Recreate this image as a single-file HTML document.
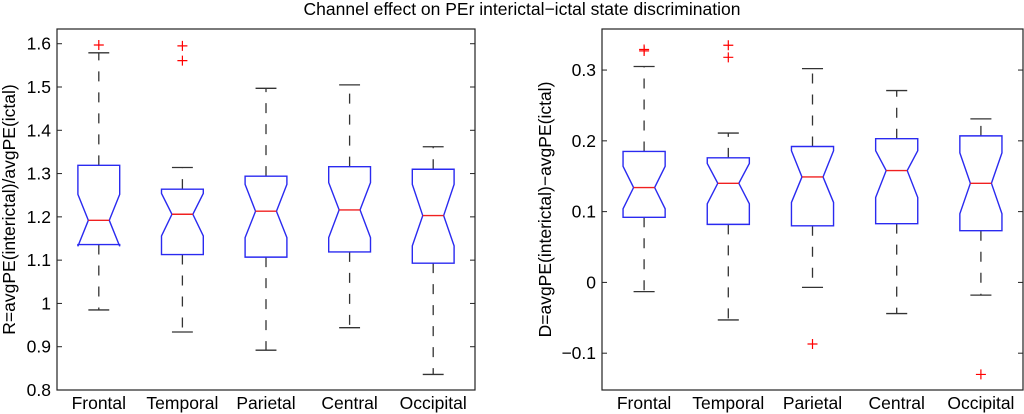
<!DOCTYPE html>
<html><head><meta charset="utf-8"><style>
html,body{margin:0;padding:0;background:#fff;}
svg{display:block;font-family:"Liberation Sans",sans-serif;}
</style></head><body>
<svg id="chart" width="1024" height="414" xmlns="http://www.w3.org/2000/svg">
<text x="522" y="15" text-anchor="middle" font-size="17.5" fill="#000">Channel effect on PEr interictal−ictal state discrimination</text>
</svg>
<script>
const categories = ["Frontal","Temporal","Parietal","Central","Occipital"];
// Left panel (R)
const rWhiskHi = [1.579,1.314,1.497,1.505,1.362];
const rQ3 = [1.319,1.264,1.294,1.316,1.310];
const rNotchHi = [1.252,1.254,1.275,1.279,1.275];
const rMedian = [1.192,1.206,1.213,1.216,1.203];
const rNotchLo = [1.132,1.156,1.152,1.152,1.133];
const rQ1 = [1.136,1.113,1.107,1.119,1.093];
const rWhiskLo = [0.985,0.934,0.892,0.944,0.836];
const rOutliers = [[1.597],[1.595,1.561],[],[],[]];
const rTicks = [0.8,0.9,1,1.1,1.2,1.3,1.4,1.5,1.6];
const rTickLabels = ["0.8","0.9","1","1.1","1.2","1.3","1.4","1.5","1.6"];
// Right panel (D)
const dWhiskHi = [0.305,0.211,0.302,0.271,0.231];
const dQ3 = [0.185,0.176,0.192,0.203,0.207];
const dNotchHi = [0.164,0.168,0.186,0.186,0.183];
const dMedian = [0.134,0.140,0.149,0.158,0.140];
const dNotchLo = [0.104,0.111,0.113,0.120,0.097];
const dQ1 = [0.092,0.082,0.080,0.083,0.073];
const dWhiskLo = [-0.013,-0.053,-0.007,-0.044,-0.018];
const dOutliers = [[0.329,0.327],[0.335,0.318],[-0.087],[],[-0.130]];
const dTicks = [-0.1,0,0.1,0.2,0.3];
const dTickLabels = ["−0.1","0","0.1","0.2","0.3"];

const svg = document.getElementById('chart');
const NS = 'http://www.w3.org/2000/svg';
function mk(tag, attrs, parent){
  const e = document.createElementNS(NS, tag);
  for (const k in attrs) e.setAttribute(k, attrs[k]);
  (parent||svg).appendChild(e);
  return e;
}

function panel(cfg){
  const g = mk('g', {});
  
  
  const {x0,x1,y0,y1,ymin,ymax} = cfg;
  const n = categories.length;
  const xs = i => x0 + (i + 0.5) * (x1 - x0) / n;
  const ys = v => y1 - (v - ymin) / (ymax - ymin) * (y1 - y0);
  const step = (x1 - x0) / n;
  const bw = step * 0.25, nw = step * 0.125, cw = step * 0.125;
  const frame = mk('rect', {x:x0, y:y0, width:x1-x0, height:y1-y0, fill:'none', stroke:'#222', 'stroke-width':1.2}, g);
  
  
  cfg.ticks.forEach((t, k) => {
    const y = ys(t);
    mk('line', {x1:x0, x2:x0+5, y1:y, y2:y, stroke:'#222'}, g);
    mk('line', {x1:x1, x2:x1-5, y1:y, y2:y, stroke:'#222'}, g);
    const tl = mk('text', {x:x0-6, y:y+6, 'text-anchor':'end', 'font-size':17.5, fill:'#000'}, g);
    tl.textContent = cfg.tickLabels[k];
    
    
  });
  const yl = mk('text', {transform:`translate(${cfg.ylx},${(y0+y1)/2}) rotate(-90)`, 'text-anchor':'middle', 'font-size':17.5, fill:'#000'}, g);
  yl.textContent = cfg.ylabel;
  
  
  categories.forEach((c, i) => {
    const x = xs(i);
    const bg = mk('g', {}, g);
    
    
    mk('line', {x1:x, x2:x, y1:ys(cfg.q3[i]), y2:ys(cfg.wHi[i]), stroke:'#333', 'stroke-width':1.3, 'stroke-dasharray':'10,11'}, bg);
    mk('line', {x1:x, x2:x, y1:ys(cfg.q1[i]), y2:ys(cfg.wLo[i]), stroke:'#333', 'stroke-width':1.3, 'stroke-dasharray':'10,11'}, bg);
    mk('line', {x1:x-cw, x2:x+cw, y1:ys(cfg.wHi[i]), y2:ys(cfg.wHi[i]), stroke:'#333', 'stroke-width':1.3}, bg);
    mk('line', {x1:x-cw, x2:x+cw, y1:ys(cfg.wLo[i]), y2:ys(cfg.wLo[i]), stroke:'#333', 'stroke-width':1.3}, bg);
    const ym = ys(cfg.med[i]);
    const pts = [[x-bw,ys(cfg.q3[i])],[x+bw,ys(cfg.q3[i])],[x+bw,ys(cfg.nHi[i])],[x+nw,ym],[x+bw,ys(cfg.nLo[i])],[x+bw,ys(cfg.q1[i])],
      [x-bw,ys(cfg.q1[i])],[x-bw,ys(cfg.nLo[i])],[x-nw,ym],[x-bw,ys(cfg.nHi[i])]];
    mk('polygon', {points:pts.map(p=>p.join(',')).join(' '), fill:'#fff', stroke:'#2a2af0', 'stroke-width':1.4}, bg);
    mk('line', {x1:x-nw, x2:x+nw, y1:ym, y2:ym, stroke:'#f02020', 'stroke-width':1.4}, bg);
    cfg.out[i].forEach(v => {
      const y = ys(v);
      const o = mk('path', {d:`M${x-5},${y}H${x+5}M${x},${y-5}V${y+5}`, stroke:'#f00', 'stroke-width':1.2, fill:'none'}, bg);
      
      
    });
    const xl = mk('text', {x:x, y:y1+19, 'text-anchor':'middle', 'font-size':17.5, fill:'#000'}, g);
    xl.textContent = c;
    
    
  });
}

panel({name:'left-panel-ratio', x0:57, x1:475, y0:29, y1:390, ymin:0.8, ymax:1.634,
  ticks:rTicks, tickLabels:rTickLabels, ylabel:'R=avgPE(interictal)/avgPE(ictal)', ylx:15,
  wHi:rWhiskHi, q3:rQ3, nHi:rNotchHi, med:rMedian, nLo:rNotchLo, q1:rQ1, wLo:rWhiskLo, out:rOutliers});
panel({name:'right-panel-difference', x0:602, x1:1023, y0:29, y1:390, ymin:-0.152, ymax:0.358,
  ticks:dTicks, tickLabels:dTickLabels, ylabel:'D=avgPE(interictal)−avgPE(ictal)', ylx:551,
  wHi:dWhiskHi, q3:dQ3, nHi:dNotchHi, med:dMedian, nLo:dNotchLo, q1:dQ1, wLo:dWhiskLo, out:dOutliers});
</script>
</body></html>
